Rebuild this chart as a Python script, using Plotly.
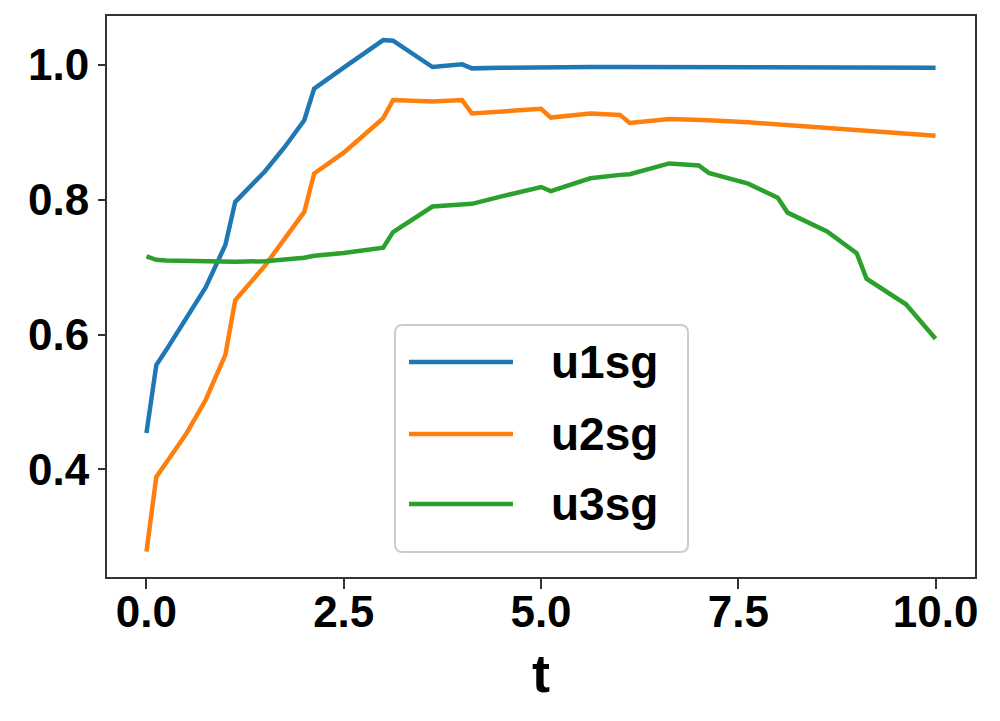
import plotly.graph_objs as go

# Instantes de tempo (vértices)
t = [0, 0.125, 0.25, 0.5, 0.75, 1.0, 1.125, 1.5, 1.75, 2.0, 2.125, 2.5, 3.0, 3.125,
     3.625, 4.0, 4.125, 4.5, 5.0, 5.125, 5.625, 6.0, 6.125, 6.625, 7.0, 7.125,
     7.625, 8.0, 8.125, 8.625, 9.0, 9.125, 9.625, 10.0]

u1sg = [0.454, 0.555, 0.577, 0.624, 0.670, 0.733, 0.797, 0.842, 0.878, 0.918, 0.965,
        0.996, 1.037, 1.036, 0.997, 1.001, 0.995, 0.996, 0.997, 0.997, 0.997, 0.997,
        0.997, 0.997, 0.997, 0.997, 0.997, 0.997, 0.997, 0.997, 0.996, 0.996, 0.996, 0.996]

u2sg = [0.278, 0.389, 0.410, 0.452, 0.503, 0.570, 0.651, 0.702, 0.742, 0.782, 0.839,
        0.870, 0.921, 0.948, 0.946, 0.948, 0.928, 0.931, 0.935, 0.922, 0.928, 0.926,
        0.914, 0.920, 0.919, 0.918, 0.915, 0.912, 0.910, 0.907, 0.904, 0.902, 0.899, 0.895]

u3sg = [0.716, 0.711, 0.710, 0.709, 0.708, 0.708, 0.708, 0.709, 0.711, 0.714, 0.717,
        0.721, 0.729, 0.752, 0.790, 0.792, 0.794, 0.805, 0.819, 0.813, 0.832, 0.837,
        0.838, 0.854, 0.851, 0.840, 0.824, 0.803, 0.781, 0.753, 0.721, 0.683, 0.645, 0.594]

x_ticks = [0, 2.5, 5.0, 7.5, 10.0]
x_labels = ["0.0", "2.5", "5.0", "7.5", "10.0"]
y_ticks = [0.4, 0.6, 0.8, 1.0]
y_labels = ["0.4", "0.6", "0.8", "1.0"]

series = [("u1sg", u1sg, "#1f77b4"), ("u2sg", u2sg, "#ff7f0e"), ("u3sg", u3sg, "#2ca02c")]

FONTE = "Liberation Sans"

fig = go.Figure()
for nome, valores, cor in series:
    fig.add_trace(go.Scatter(x=t, y=valores, name=nome, mode="lines",
                             line=dict(color=cor, width=4.5), showlegend=False))

# Eixos com moldura completa
eixo = dict(showline=True, mirror=True, linecolor="#333333", linewidth=2,
            showgrid=False, zeroline=False, ticks="outside", tickcolor="#333333",
            tickwidth=2, automargin=False)

fig.update_xaxes(range=[-0.5, 10.5], tickvals=x_ticks, ticktext=x_labels, ticklen=10,
                 ticklabelstandoff=-15,
                 tickfont=dict(family=FONTE, size=44, color="black", weight="bold"),
                 **eixo)
fig.update_yaxes(range=[0.2404, 1.0727], tickvals=y_ticks, ticktext=y_labels, ticklen=7,
                 tickfont=dict(family=FONTE, size=44, color="black", weight="bold"),
                 **eixo)

# Legenda desenhada à mão (linhas longas como no original)
lx0, lx1, ly0, ly1, r = 0.3318, 0.6694, 0.0446, 0.4492, 0.009
rx, ry = r, r * 868 / 561
caixa = (f"M{lx0 + rx},{ly0} L{lx1 - rx},{ly0} Q{lx1},{ly0} {lx1},{ly0 + ry} "
         f"L{lx1},{ly1 - ry} Q{lx1},{ly1} {lx1 - rx},{ly1} L{lx0 + rx},{ly1} "
         f"Q{lx0},{ly1} {lx0},{ly1 - ry} L{lx0},{ly0 + ry} Q{lx0},{ly0} {lx0 + rx},{ly0} Z")
shapes = [dict(type="path", path=caixa, xref="paper", yref="paper",
               fillcolor="rgba(255,255,255,0.8)", line=dict(color="#cccccc", width=2))]
annotations = []
linhas_y = [0.3832, 0.2549, 0.1301]
for (nome, _, cor), yy in zip(series, linhas_y):
    shapes.append(dict(type="line", xref="paper", yref="paper", x0=0.3479, x1=0.4677,
                       y0=yy, y1=yy, line=dict(color=cor, width=4.5)))
    annotations.append(dict(text=nome, xref="paper", yref="paper", x=0.509, y=yy,
                            xanchor="left", yanchor="middle", showarrow=False,
                            font=dict(family=FONTE, size=46, color="black", weight="bold")))

# Titulo do eixo x
annotations.append(dict(text="t", xref="paper", yref="paper", x=0.5, y=-0.171,
                        xanchor="center", yanchor="middle", showarrow=False,
                        font=dict(family=FONTE, size=54, color="black", weight="bold")))

# A página tem margem de 8px no body, por isso o deslocamento
fig.update_layout(
    width=1000,
    height=721,
    plot_bgcolor="white",
    paper_bgcolor="white",
    margin=dict(l=99, r=33, t=8, b=152),
    shapes=shapes,
    annotations=annotations,
)

fig.write_html("out.html")
